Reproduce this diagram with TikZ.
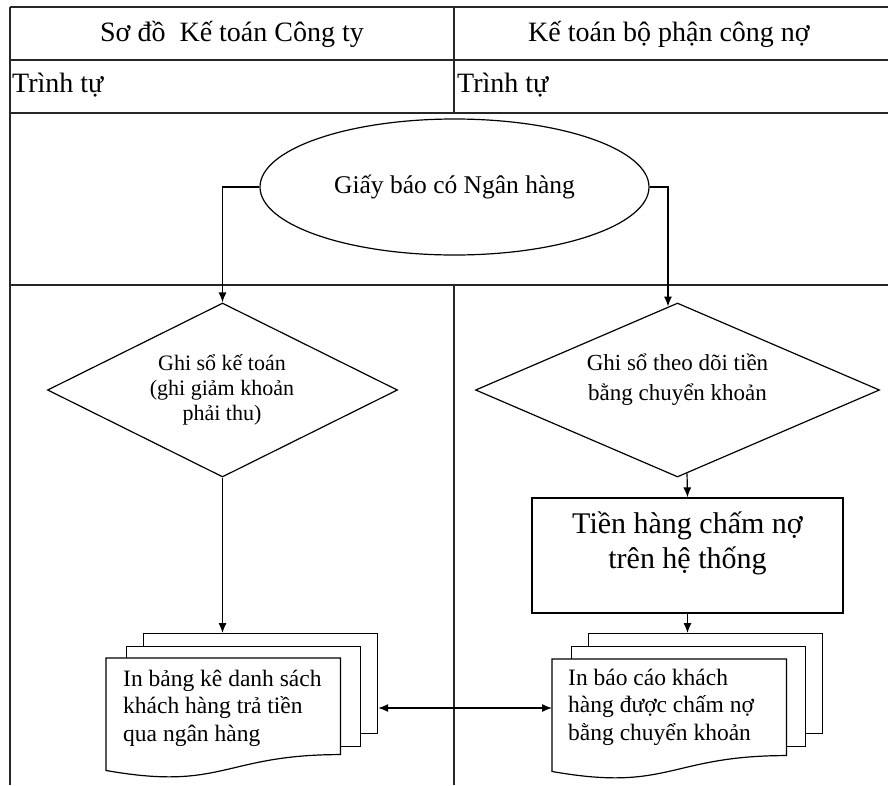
\documentclass[tikz,border=0pt]{standalone}
\usepackage{fontspec}
\setmainfont{Liberation Serif}
\usetikzlibrary{shapes.geometric,arrows.meta,calc}
\begin{document}
\begin{tikzpicture}[x=1pt,y=-1pt,
  rule/.style={line width=1.4pt,draw=black!85},
  shapeline/.style={line width=1.2pt,draw=black},
  arr/.style={line width=1.2pt,-{Latex[length=10pt,width=8pt]}},
  dblarr/.style={line width=1.2pt,{Latex[length=10pt,width=8pt]}-{Latex[length=10pt,width=8pt]}},
  sheet/.style={shapeline,fill=white,rectangle,anchor=north west,
    minimum width=234pt,minimum height=100pt,inner sep=0pt},
  frontsheet/.style={rectangle,anchor=north west,
    minimum width=234pt,minimum height=120pt,inner sep=0pt},
  headtxt/.style={font=\fontsize{28}{32}\selectfont,inner sep=0pt},
  doctxt/.style={font=\fontsize{23.5}{27.5}\selectfont,align=left,anchor=west,inner sep=0pt},
]
\useasboundingbox (0,0) rectangle (888,785);

% table frame
\draw[rule] (10,7) -- (888,7);
\draw[rule] (10,60) -- (888,60);
\draw[rule] (10,113) -- (888,113);
\draw[rule] (10,285) -- (888,285);
\draw[rule] (10,7) -- (10,785);
\draw[rule] (454,7) -- (454,113);
\draw[rule] (454,285) -- (454,785);

% headings
\node[headtxt,anchor=base] (h1) at (232,41) {Sơ đồ\ \ Kế toán Công ty};
\node[headtxt,anchor=base] (h2) at (669,41) {Kế toán bộ phận công nợ};
\node[headtxt,anchor=base west] (t1) at (12,92) {Trình tự};
\node[headtxt,anchor=base west] (t2) at (457,92) {Trình tự};

% start
\node[shapeline,ellipse,minimum width=389pt,minimum height=136pt,inner sep=0pt,
  font=\fontsize{25.5}{30}\selectfont] (ell) at (454.5,187) {Giấy báo có Ngân hàng};

% decisions
\node[shapeline,diamond,minimum width=350pt,minimum height=174pt,inner sep=0pt] (ld) at (222.5,390) {};
\node[font=\fontsize{22}{25}\selectfont,align=center,inner sep=0pt] (ldtxt) at (222,390)
  {Ghi sổ kế toán\\(ghi giảm khoản\\phải thu)};
\node[shapeline,diamond,minimum width=404pt,minimum height=174pt,inner sep=0pt] (rd) at (677.5,390) {};
\node[font=\fontsize{23}{30}\selectfont,align=center,inner sep=0pt] (rdtxt) at (677.5,380)
  {Ghi sổ theo dõi tiền\\bằng chuyển khoản};

% process box
\node[shapeline,rectangle,minimum width=311pt,minimum height=115pt,inner sep=0pt] (sys) at (687.5,555.5) {};
\node[font=\fontsize{30}{35}\selectfont,align=center,inner sep=0pt] (systxt) at (687.5,543)
  {Tiền hàng chấm nợ\\trên hệ thống};

% left document stack
\node[sheet] (lback) at (143,633) {};
\node[sheet] (lmid) at (126,646) {};
\node[frontsheet] (lfront) at (106,658) {};
\draw[shapeline,fill=white] (lfront.north west) -- (lfront.north east)
  -- ($(lfront.north east)!0.802!(lfront.south east)$)
  .. controls ($(lfront.north)!0.802!(lfront.south)$) and ($(lfront.north)!1.107!(lfront.south)$)
  .. ($(lfront.north west)!0.934!(lfront.south west)$) -- cycle;
\node[doctxt] (ltxt) at (123,708) {In bảng kê danh sách\\khách hàng trả tiền\\qua ngân hàng};

% right document stack
\node[sheet] (rback) at (588,633) {};
\node[sheet] (rmid) at (571,646) {};
\node[frontsheet] (rfront) at (552,659) {};
\draw[shapeline,fill=white] (rfront.north west) -- (rfront.north east)
  -- ($(rfront.north east)!0.802!(rfront.south east)$)
  .. controls ($(rfront.north)!0.802!(rfront.south)$) and ($(rfront.north)!1.107!(rfront.south)$)
  .. ($(rfront.north west)!0.934!(rfront.south west)$) -- cycle;
\node[doctxt] (rtxt) at (568,707) {In báo cáo khách\\hàng được chấm nợ\\bằng chuyển khoản};

% connectors
\draw[arr] (ell.west) -| (ld.north);
\draw[arr] (ell.east) -| ($(rd.north)!0.047!(rd.west)$);
\draw[arr] (ld.south) -- (ld.south |- lback.north);
\draw[arr] ($(rd.south)!0.047!(rd.east)$) -- (sys.north);
\draw[arr] (sys.south) -- (sys.south |- rback.north);
\draw[dblarr] (lback.east |- ltxt.west) -- (rfront.west |- ltxt.west);
\end{tikzpicture}
\end{document}
